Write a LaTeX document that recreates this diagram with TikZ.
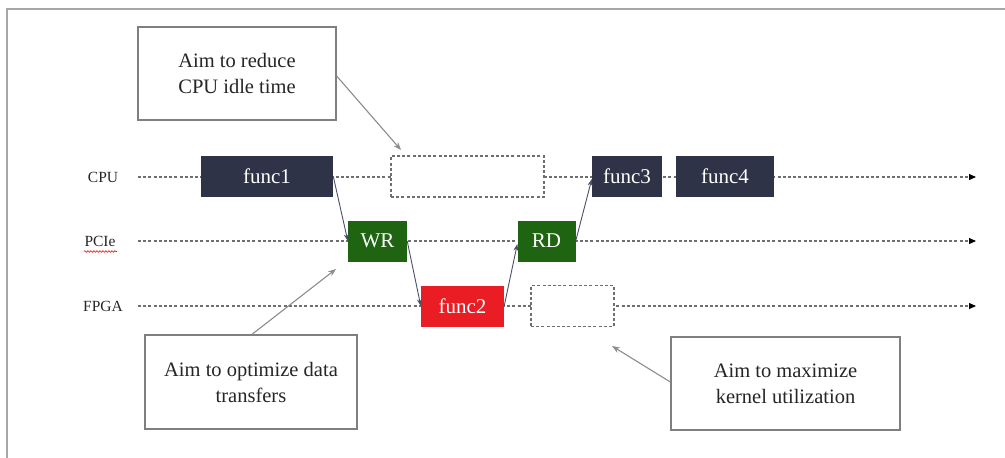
\documentclass[tikz,border=0pt]{standalone}
\usepackage{fontspec}
\setmainfont{Liberation Serif}
\usetikzlibrary{arrows.meta,decorations.pathmorphing}
\definecolor{navy}{HTML}{2E3347}
\definecolor{darkgrn}{HTML}{1E6411}
\definecolor{hotred}{HTML}{EA1C24}
\definecolor{framegray}{HTML}{A6A6A6}
\definecolor{boxgray}{HTML}{7F7F7F}
\definecolor{laneline}{HTML}{6E6E6E}
\definecolor{linkcol}{HTML}{4A5068}
\tikzset{
  lane/.style={draw=laneline, line width=1.1pt, dash pattern=on 3pt off 2.2pt,
    -{Triangle[length=7pt,width=6pt,color=black]}},
  lanelabel/.style={font=\fontsize{15.5}{17}\selectfont, text=black!85, inner sep=0pt},
  task/.style={minimum height=41pt, inner sep=0pt, text=white,
    font=\fontsize{21}{24}\selectfont},
  cpujob/.style={task, fill=navy},
  xfer/.style={task, fill=darkgrn},
  kernel/.style={task, fill=hotred},
  idle/.style={draw=laneline, fill=white, line width=1.1pt, dash pattern=on 3pt off 2.2pt,
    minimum height=41pt, inner sep=0pt},
  note/.style={draw=boxgray, fill=white, line width=1.3pt, align=center, inner sep=0pt,
    font=\fontsize{20.5}{26}\selectfont, text=black!85},
  link/.style={draw=linkcol, line width=0.9pt,
    -{Stealth[length=7pt,width=5pt]}},
  pointer/.style={draw=boxgray!90, line width=1.1pt,
    -{Stealth[length=8pt,width=6pt]}},
}
\begin{document}
\begin{tikzpicture}[x=1pt,y=-1pt]
\useasboundingbox (0,0) rectangle (1005,458);
% outer frame (top and left edges only)
\draw[framegray, line width=2pt] (7,458) -- (7,9) -- (1005,9);

% lane labels
\node[lanelabel] (lcpu)  at (103,177) {CPU};
\node[lanelabel] (lpcie) at (100,241) {PCIe};
\node[lanelabel] (lfpga) at (103,306) {FPGA};
\draw[red, line width=0.6pt, decorate,
      decoration={snake, amplitude=0.8pt, segment length=3pt}]
  (84,251.5) -- (117,251.5);

% lane time axes
\coordinate (cpuA) at (138,177);  \coordinate (cpuB) at (976,177);
\coordinate (pciA) at (138,241);  \coordinate (pciB) at (976,241);
\coordinate (fpgA) at (138,306);  \coordinate (fpgB) at (976,306);
\draw[lane] (cpuA) -- (cpuB);
\draw[lane] (pciA) -- (pciB);
\draw[lane] (fpgA) -- (fpgB);

% tasks
\node[cpujob, minimum width=132pt] (f1) at (267,176) {func1};
\node[idle, minimum width=153pt] (gapcpu) at (467.5,176.5) {};
\node[cpujob, minimum width=70pt] (f3) at (627,176) {func3};
\node[cpujob, minimum width=98pt] (f4) at (725,176) {func4};
\node[xfer, minimum width=59pt] (wr) at (377.5,241) {WR};
\node[xfer, minimum width=58pt] (rd) at (546.5,241) {RD};
\node[kernel, minimum width=83pt] (f2) at (462.5,306) {func2};
\node[idle, minimum width=83pt] (gapfpga) at (572.5,306) {};

% data flow
\draw[link] (f1.east) -- (wr.west);
\draw[link] (wr.east) -- (f2.west);
\draw[link] (f2.east) -- ([yshift=-3pt]rd.west);
\draw[link] (rd.east) -- ([yshift=-3pt]f3.west);

% notes
\node[note, minimum width=198pt, minimum height=93pt] (n1) at (237,73.5)
  {Aim to reduce\\CPU idle time};
\node[note, minimum width=212pt, minimum height=94pt] (n2) at (251,382)
  {Aim to optimize data\\transfers};
\node[note, minimum width=229pt, minimum height=93pt] (n3) at (785.5,383.5)
  {Aim to maximize\\kernel utilization};

\coordinate (t1) at (401,150);
\coordinate (t2) at (336,269);
\coordinate (t3) at (612,346);
\draw[pointer] (n1.east |- 0,76) -- (t1);
\draw[pointer] (n2.north -| 252,0) -- (t2);
\draw[pointer] (n3.west |- 0,382) -- (t3);
\end{tikzpicture}
\end{document}
